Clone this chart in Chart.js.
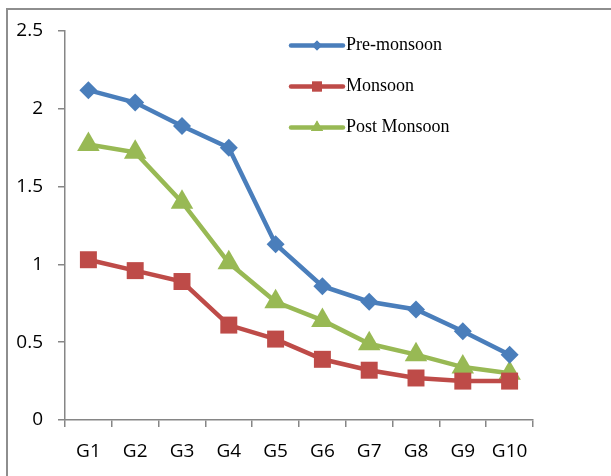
<!DOCTYPE html>
<html>
<head>
<meta charset="utf-8">
<script src="https://cdn.jsdelivr.net/npm/chart.js@4/dist/chart.umd.min.js"></script>
<style>
  html, body { margin: 0; padding: 0; background: #fff; }
  #wrap { position: relative; width: 611px; height: 476px; overflow: hidden; }
  #frame { position: absolute; left: 6px; top: 8px; width: 700px; height: 600px;
           border-left: 2px solid #8e8e8e; border-top: 2px solid #8e8e8e; }
  canvas { position: absolute; left: 0; top: 0; }
</style>
</head>
<body>
<div id="wrap">
  <div id="frame"></div>
  <canvas id="c" width="611" height="476"></canvas>
</div>
<script>
// Sites G1..G10, seasonal values
const categories = ['G1', 'G2', 'G3', 'G4', 'G5', 'G6', 'G7', 'G8', 'G9', 'G10'];
const preMonsoon = [2.12, 2.04, 1.89, 1.75, 1.13, 0.86, 0.76, 0.71, 0.57, 0.42];
const monsoon = [1.03, 0.96, 0.89, 0.61, 0.52, 0.39, 0.32, 0.27, 0.25, 0.25];
const postMonsoon = [1.77, 1.72, 1.40, 1.01, 0.76, 0.64, 0.49, 0.42, 0.34, 0.30];
const seriesNames = ['Pre-monsoon', 'Monsoon', 'Post Monsoon'];
const yTicks = [0, 0.5, 1, 1.5, 2, 2.5];

const colors = ['#4A7EBB', '#BE4B48', '#98B954'];
const markers = ['rectRot', 'rect', 'triangle'];
const markerSize = [9, 12, 13];
const legendMarkerSize = [5, 7, 7];

function makeSet(i, data) {
  return {
    label: seriesNames[i],
    data: data,
    borderColor: colors[i],
    backgroundColor: colors[i],
    borderWidth: 4.5,
    pointStyle: markers[i],
    pointRadius: markerSize[i],
    pointBorderWidth: 0,
    pointBackgroundColor: colors[i],
    tension: 0
  };
}

// Line-with-marker legend placed inside the plot area
const insideLegend = {
  id: 'insideLegend',
  afterDraw(chart) {
    const ctx = chart.ctx;
    const x0 = 291, x1 = 343, textX = 346;
    const rows = [45.5, 86.5, 127.5];
    chart.data.datasets.forEach((ds, i) => {
      const y = rows[i];
      ctx.save();
      ctx.strokeStyle = ds.borderColor;
      ctx.lineWidth = 4.5;
      ctx.lineCap = 'round';
      ctx.beginPath();
      ctx.moveTo(x0, y);
      ctx.lineTo(x1, y);
      ctx.stroke();
      ctx.fillStyle = ds.borderColor;
      if (Chart.helpers && Chart.helpers.drawPoint) {
        Chart.helpers.drawPoint(ctx, { pointStyle: ds.pointStyle, radius: legendMarkerSize[i], borderWidth: 0, rotation: 0 }, (x0 + x1) / 2, y);
        ctx.fill();
      }
      ctx.fillStyle = '#000';
      ctx.font = '18px "Liberation Serif", "Times New Roman", serif';
      ctx.textBaseline = 'middle';
      ctx.textAlign = 'left';
      ctx.fillText(ds.label, textX, y);
      ctx.restore();
    });
  }
};

const tickFont = { family: '"Open Sans", "Liberation Sans", Arial, sans-serif', size: 19 };

new Chart(document.getElementById('c'), {
  type: 'line',
  data: {
    labels: categories,
    datasets: [makeSet(0, preMonsoon), makeSet(1, monsoon), makeSet(2, postMonsoon)]
  },
  options: {
    responsive: false,
    animation: false,
    devicePixelRatio: 1,
    layout: { padding: { top: 31, right: 78, left: 0, bottom: 0 } },
    plugins: {
      legend: { display: false },
      tooltip: { enabled: false }
    },
    scales: {
      x: {
        offset: true,
        afterFit(s) { s.height = 56; },
        border: { display: true, color: '#868686', width: 1.5 },
        grid: { offset: true, drawOnChartArea: false, drawTicks: true, tickLength: 7, color: '#868686', lineWidth: 1.5 },
        ticks: { color: '#000', padding: 13, font: tickFont }
      },
      y: {
        min: 0,
        max: 2.5,
        afterFit(s) { s.width = 65; },
        afterBuildTicks(s) { s.ticks = yTicks.map(v => ({ value: v })); },
        border: { display: true, color: '#868686', width: 1.5 },
        grid: { drawOnChartArea: false, drawTicks: true, tickLength: 7, color: '#868686', lineWidth: 1.5 },
        ticks: { color: '#000', padding: 15, font: tickFont, callback: v => String(v) }
      }
    }
  },
  plugins: [insideLegend]
});
</script>
</body>
</html>
